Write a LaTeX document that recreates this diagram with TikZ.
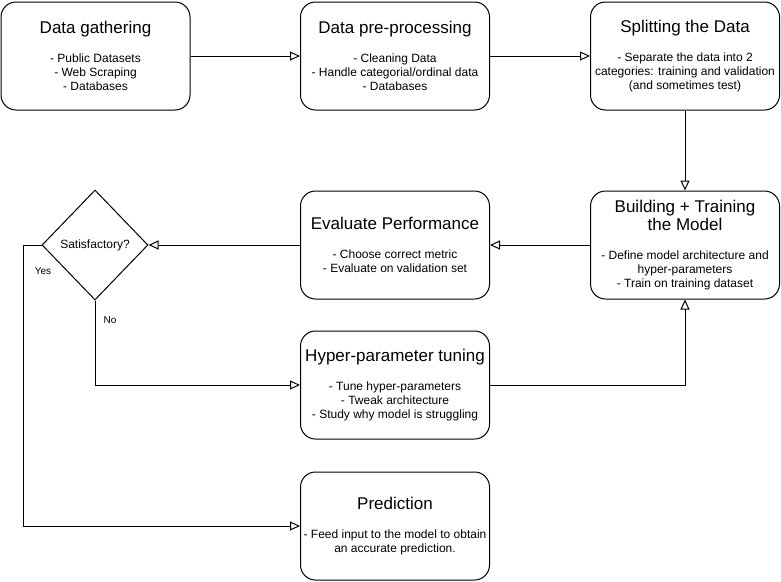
\documentclass[tikz,border=0pt]{standalone}
\usepackage{fontspec}
\setmainfont{Liberation Sans}
\usetikzlibrary{arrows.meta,shapes.geometric}

\newcommand{\headfont}{\fontsize{17}{20}\selectfont}

\begin{document}
\begin{tikzpicture}[x=1pt,y=-1pt,
  stage/.style={draw,line width=1pt,fill=white,rounded corners=15pt,
    minimum width=189pt,minimum height=108pt,inner sep=0pt,align=center,
    font=\fontsize{12}{14}\selectfont},
  choice/.style={draw,line width=1pt,diamond,aspect=1,minimum width=106pt,
    minimum height=110pt,inner sep=0pt,font=\fontsize{12}{14}\selectfont},
  tag/.style={inner sep=0pt,font=\fontsize{10}{12}\selectfont},
  flow/.style={line width=1pt,-{Triangle[open,length=10pt,width=9pt]}}]
\useasboundingbox (0,0) rectangle (781,581);
%boxes
\node[stage] (gather) at (95.5,56) {{\headfont Data gathering}\\[15pt]
  - Public Datasets\\ - Web Scraping\\ - Databases};
\node[stage] (prep) at (395,56) {{\headfont Data pre-processing}\\[15pt]
  - Cleaning Data\\ - Handle categorial/ordinal data\\ - Databases};
\node[stage] (split) at (685,56) {{\headfont Splitting the Data}\\[15pt]
  - Separate the data into 2\\ categories: training and validation\\ (and sometimes test)};
\node[stage] (build) at (685,245) {{\headfont Building + Training}\\[1pt]{\headfont the Model}\\[15pt]
  - Define model architecture and\\ hyper-parameters\\ - Train on training dataset};
\node[stage] (eval) at (395,245) {{\headfont Evaluate Performance}\\[15pt]
  - Choose correct metric\\ - Evaluate on validation set};
\node[choice] (check) at (95,245) {Satisfactory?};
\node[stage] (tune) at (395,385) {{\headfont Hyper-parameter tuning}\\[15pt]
  - Tune hyper-parameters\\ - Tweak architecture\\ - Study why model is struggling};
\node[stage] (pred) at (395,526) {{\headfont Prediction}\\[15pt]
  - Feed input to the model to obtain\\ an accurate prediction.};
%labels
\node[tag] (yes) at (43,271) {Yes};
\node[tag] (no) at (110,320) {No};
\coordinate (yesbend) at (23,245);
%arrows
\draw[flow] (gather) -- (prep);
\draw[flow] (prep) -- (split);
\draw[flow] (split) -- (build);
\draw[flow] (build) -- (eval);
\draw[flow] (eval) -- (check);
\draw[flow] (check.south) |- (tune.west);
\draw[flow] (check.west) -- (yesbend) |- (pred.west);
\draw[flow] (tune.east) -| (build.south);
\end{tikzpicture}
\end{document}
